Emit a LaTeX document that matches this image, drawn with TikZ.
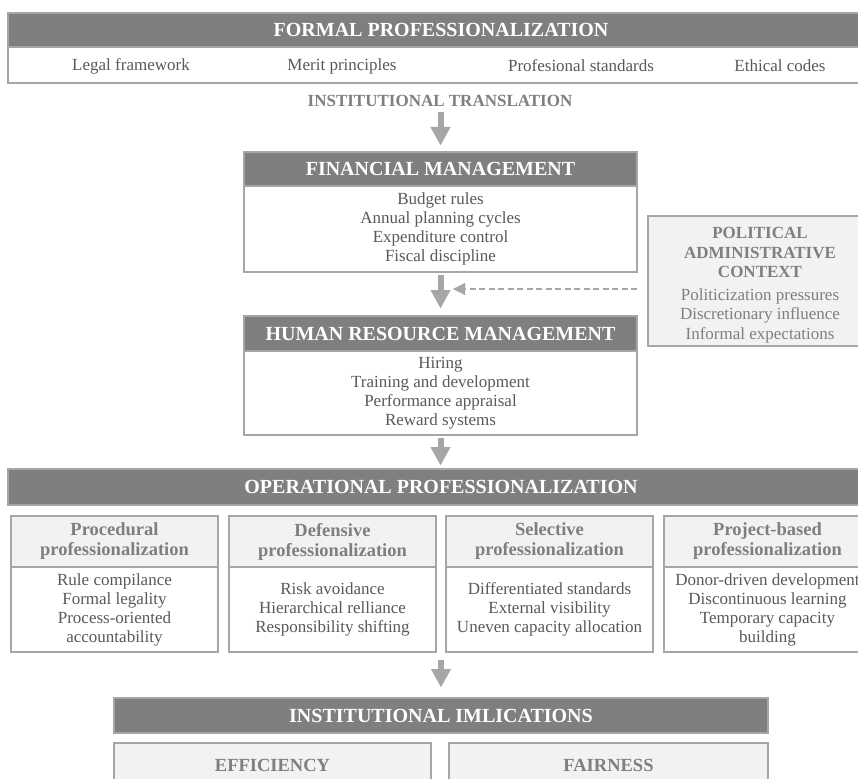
\documentclass[tikz,border=0pt]{standalone}
\usepackage{fontspec}
\setmainfont{Liberation Serif}
\usepackage{tikz}
\usetikzlibrary{arrows.meta}
\usetikzlibrary{positioning}

\definecolor{bandgray}{HTML}{7F7F7F}
\definecolor{edgegray}{HTML}{A6A6A6}
\definecolor{palegray}{HTML}{F2F2F2}
\definecolor{bodytext}{HTML}{595959}
\definecolor{softtext}{HTML}{7F7F7F}

\begin{document}
\begin{tikzpicture}[x=1pt, y=-1pt,
  every node/.style={inner sep=0pt, outer sep=0pt},
  band/.style={draw=edgegray, line width=2pt, fill=bandgray, text=white, anchor=north west, font=\fontsize{20}{22}\selectfont\bfseries},
  listbox/.style={draw=edgegray, line width=2pt, fill=white, text=bodytext, align=center, font=\fontsize{17}{19}\selectfont},
  palebox/.style={draw=edgegray, line width=2pt, fill=palegray, text=softtext, align=center, font=\fontsize{18.5}{20}\selectfont\bfseries},
  contextbox/.style={draw=edgegray, line width=2pt, fill=palegray, text=softtext, align=center, anchor=north west, font=\fontsize{17}{19.5}\selectfont},
  item/.style={text=bodytext, font=\fontsize{17}{19}\selectfont},
  flow/.style={line width=6pt, draw=edgegray, -{Triangle[width=20pt, length=18pt, line width=0.01pt]}},
  influence/.style={line width=2.5pt, draw=edgegray, dash pattern=on 6pt off 3.5pt, -{Triangle[width=12pt, length=12pt, line width=0.01pt]}}]

\pgfmathsetmacro{\colw}{207};
\pgfmathsetmacro{\headh}{51};
\pgfmathsetmacro{\bodyh}{85};

\useasboundingbox (0,0) rectangle (858,778);
\fill[white] (0,0) rectangle (858,778);
\clip (0,0) rectangle (858,778);

% formal level
\node[band, minimum width=866pt, minimum height=34pt] (formal) at (8,13) {FORMAL PROFESSIONALIZATION};
\node[listbox, below=0pt of formal, minimum width=866pt, minimum height=36pt] (formalrow) {};
\node[item] (legal) at (131,66) {Legal framework};
\node[item] (merit) at (342,66) {Merit principles};
\node[item] (standards) at (581,66) {Profesional standards};
\node[item] (ethics) at (780,66) {Ethical codes};
\node[text=softtext, font=\fontsize{17}{19}\selectfont\bfseries] (trans) at (440,101) {INSTITUTIONAL TRANSLATION};

% management blocks
\node[band, minimum width=393pt, minimum height=34pt] (fmhead) at (244,152) {FINANCIAL MANAGEMENT};
\node[listbox, below=0pt of fmhead, minimum width=393pt, minimum height=86pt] (fmbody) {Budget rules\\Annual planning cycles\\Expenditure control\\Fiscal discipline};
\node[band, minimum width=393pt, minimum height=35pt] (hrhead) at (244,316) {HUMAN RESOURCE MANAGEMENT};
\node[listbox, below=0pt of hrhead, minimum width=393pt, minimum height=84pt] (hrbody) {Hiring\\Training and development\\Performance appraisal\\Reward systems};

% context
\node[contextbox, minimum width=224pt, minimum height=130pt] (pol) at (648,216) {\rule{0pt}{20pt}\textbf{POLITICAL}\\\textbf{ADMINISTRATIVE}\\\textbf{CONTEXT}\\[3pt]Politicization pressures\\Discretionary influence\\Informal expectations};

% operational level
\node[band, minimum width=866pt, minimum height=36pt] (opband) at (8,469) {OPERATIONAL PROFESSIONALIZATION};
\node[palebox, anchor=north west, minimum width=\colw pt, minimum height=\headh pt] (prochead) at (11,516) {Procedural\\professionalization};
\node[listbox, below=0pt of prochead, minimum width=\colw pt, minimum height=\bodyh pt] (procbody) {Rule compilance\\Formal legality\\Process-oriented\\accountability};
\node[palebox, anchor=north west, minimum width=\colw pt, minimum height=\headh pt] (defhead) at (229,516) {Defensive\\professionalization};
\node[listbox, below=0pt of defhead, minimum width=\colw pt, minimum height=\bodyh pt] (defbody) {Risk avoidance\\Hierarchical relliance\\Responsibility shifting};
\node[palebox, anchor=north west, minimum width=\colw pt, minimum height=\headh pt] (selhead) at (446,516) {Selective\\professionalization};
\node[listbox, below=0pt of selhead, minimum width=\colw pt, minimum height=\bodyh pt] (selbody) {Differentiated standards\\External visibility\\Uneven capacity allocation};
\node[palebox, anchor=north west, minimum width=\colw pt, minimum height=\headh pt] (projhead) at (664,516) {Project-based\\professionalization};
\node[listbox, below=0pt of projhead, minimum width=\colw pt, minimum height=\bodyh pt] (projbody) {Donor-driven development\\Discontinuous learning\\Temporary capacity\\building};

% implications
\node[band, minimum width=654pt, minimum height=35pt] (imband) at (114,698) {INSTITUTIONAL IMLICATIONS};
\node[palebox, anchor=north west, minimum width=317pt, minimum height=44pt] (eff) at (114,743) {EFFICIENCY};
\node[palebox, anchor=north west, minimum width=319pt, minimum height=44pt] (fair) at (449,743) {FAIRNESS};

% arrows
\coordinate (opfoot) at (defbody.south -| imband.north);
\coordinate (cue) at (453,289);
\draw[flow, shorten <=5pt, shorten >=7pt] (trans.south -| fmhead.north) -- (fmhead.north);
\draw[flow, shorten <=3pt, shorten >=8pt] (fmbody.south) -- (hrhead.north);
\draw[flow, shorten <=3pt, shorten >=4pt] (hrbody.south) -- (hrbody.south |- opband.north);
\draw[flow, shorten <=8pt, shorten >=11pt] (opfoot) -- (imband.north);
\draw[influence, shorten <=11pt] (pol.west |- cue) -- (cue);
\end{tikzpicture}
\end{document}
